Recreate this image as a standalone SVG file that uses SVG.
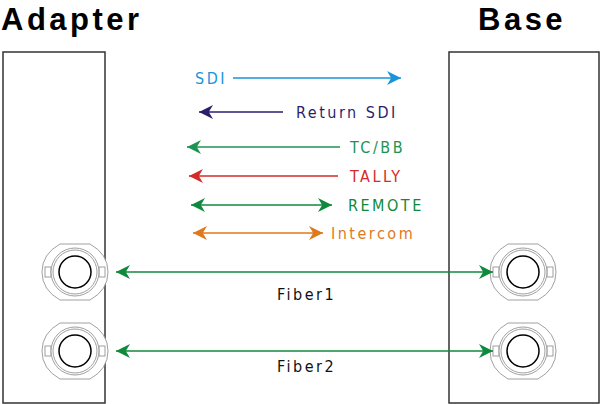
<svg xmlns="http://www.w3.org/2000/svg" width="600" height="404" viewBox="0 0 600 404">
<defs>
<style>
.t{font-family:"DejaVu Sans Condensed","DejaVu Sans",sans-serif;font-size:16px;letter-spacing:2.5px}
.h{font-family:"Liberation Sans",sans-serif;font-size:31px;font-weight:bold;letter-spacing:3.5px}
.box{fill:#fff;stroke:#333;stroke-width:1.5}
.c1{fill:#fff;stroke:#888;stroke-width:0.8}
</style>
<marker id="a" viewBox="0 0 10 10" refX="10" refY="5" markerWidth="18" markerHeight="14" markerUnits="userSpaceOnUse" orient="auto-start-reverse"><path d="M0,0L10,5L0,10L3,5Z" fill="context-stroke"/></marker>
<g id="con">
<path class="c1" d="M-15,-28L15,-28Q33,-18 33,0Q33,18 15,28L-15,28Q-33,18 -33,0Q-33,-18 -15,-28Z"/>
<rect class="c1" x="-30" y="-5" width="6" height="10"/><rect class="c1" x="24" y="-5" width="6" height="10"/>
<circle class="c1" r="24"/><circle class="c1" r="22"/>
<circle r="16" fill="none" stroke="#000" stroke-width="1.5"/>
</g>
</defs>
<rect width="600" height="404" fill="#fff"/>
<g id="adapter"><rect class="box" x="3" y="52" width="102" height="351"/><text class="h" x="1" y="30">Adapter</text>
<use href="#con" x="75" y="272"/><use href="#con" x="75" y="351"/></g>
<g id="base"><rect class="box" x="449" y="52" width="150" height="351"/><text class="h" x="478" y="30">Base</text>
<use href="#con" x="523" y="272"/><use href="#con" x="523" y="351"/></g>
<g id="connectors" stroke-width="1.5" fill="none">
<line x1="233" y1="78" x2="401" y2="78" stroke="#1a94d8" marker-end="url(#a)"/>
<line x1="283" y1="112" x2="199" y2="112" stroke="#2a1f6e" marker-end="url(#a)"/>
<line x1="340" y1="147" x2="187" y2="147" stroke="#1d9450" marker-end="url(#a)"/>
<line x1="338" y1="176" x2="189" y2="176" stroke="#d42a2a" marker-end="url(#a)"/>
<line x1="191" y1="205" x2="332" y2="205" stroke="#0f8a3c" marker-start="url(#a)" marker-end="url(#a)"/>
<line x1="193" y1="233" x2="323" y2="233" stroke="#e0781c" marker-start="url(#a)" marker-end="url(#a)"/>
<line x1="116" y1="272" x2="493" y2="272" stroke="#0f8a3c" marker-start="url(#a)" marker-end="url(#a)"/>
<line x1="116" y1="351" x2="493" y2="351" stroke="#0f8a3c" marker-start="url(#a)" marker-end="url(#a)"/>
</g>
<g id="labels" class="t">
<text x="195" y="84" fill="#1a94d8">SDI</text>
<text x="296" y="118" fill="#2a1f6e">Return SDI</text>
<text x="350" y="153" fill="#1d9450">TC/BB</text>
<text x="350" y="182" fill="#d42a2a">TALLY</text>
<text x="348" y="211" fill="#0f8a3c">REMOTE</text>
<text x="331" y="239" fill="#e0781c">Intercom</text>
<text x="277" y="300" fill="#111">Fiber1</text>
<text x="277" y="372" fill="#111">Fiber2</text>
</g>
</svg>
